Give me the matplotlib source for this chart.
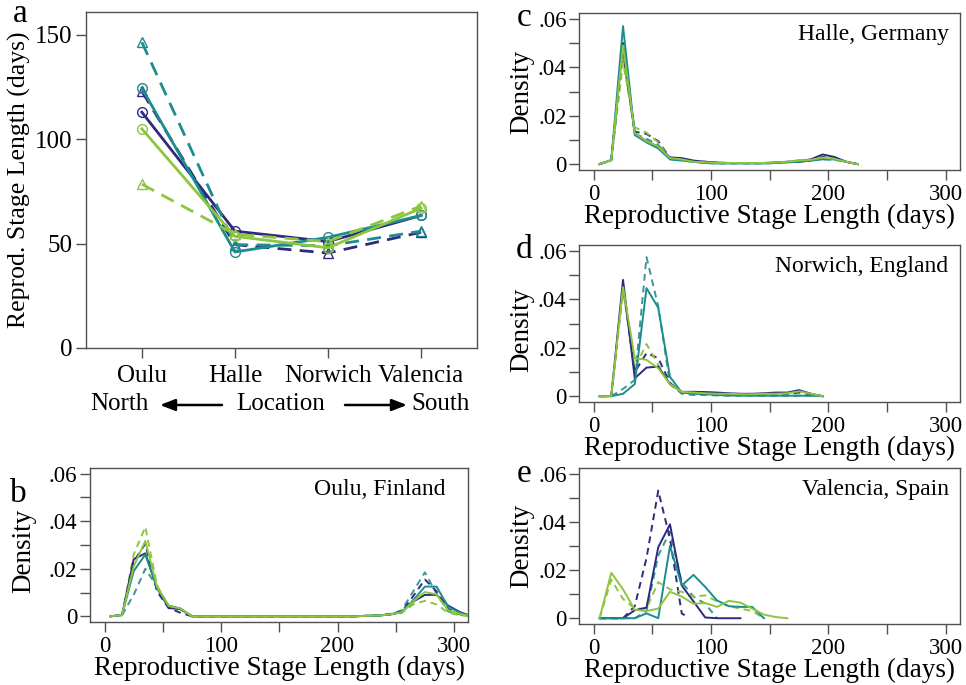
import matplotlib
matplotlib.use("Agg")
import matplotlib.pyplot as plt
from matplotlib.patches import FancyArrowPatch
from matplotlib.ticker import MultipleLocator

plt.rcParams["font.family"] = ["Liberation Serif", "DejaVu Serif"]

# ---------------- colours / styles ----------------
NAVY = "#2e2a7e"
TEAL = "#1d8c8c"
TEAL_D = "#3f9595"
GREEN = "#8cc63f"

# ---------------- panel a: mean stage length per site ----------------
sites = ["Oulu", "Halle", "Norwich", "Valencia"]
a_navy_solid = [113.0, 56.0, 51.0, 63.5]
a_navy_dash = [123.0, 49.5, 45.5, 55.5]
a_teal_solid = [124.5, 46.0, 53.0, 63.5]
a_teal_dash = [146.5, 49.5, 49.0, 56.0]
a_green_solid = [105.0, 53.5, 48.0, 67.0]
a_green_dash = [78.5, 54.5, 51.0, 68.0]

# ---------------- density curves (x = stage length, days) ----------------
# Oulu, Finland
b_x = [5, 15, 25, 35, 45, 55, 65, 75, 85, 95, 105, 115, 125, 135, 145, 155, 165, 175,
       185, 195, 205, 215, 225, 235, 245, 255, 265, 275, 285, 295, 305, 315]
b_navy_solid = [0, 0.0005, 0.024, 0.0265, 0.012, 0.0035, 0.003, 0, 0, 0, 0, 0, 0, 0, 0, 0, 0, 0,
                0, 0, 0, 0, 0.0002, 0.0003, 0.0008, 0.0017, 0.0062, 0.009, 0.009, 0.0045, 0.0018, 0]
b_navy_dash = [0, 0.0005, 0.023, 0.0305, 0.0105, 0.0035, 0.0015, 0, 0, 0, 0, 0, 0, 0, 0, 0, 0, 0,
               0, 0, 0, 0, 0.0002, 0.0003, 0.0008, 0.0018, 0.0085, 0.0155, 0.0105, 0.003, 0.001, 0]
b_teal_solid = [0, 0.0005, 0.019, 0.026, 0.012, 0.0045, 0.0033, 0, 0, 0, 0, 0, 0, 0, 0, 0, 0, 0,
                0, 0, 0, 0, 0.0002, 0.0003, 0.0008, 0.0017, 0.0068, 0.0125, 0.0125, 0.004, 0.0015, 0]
b_teal_dash = [0, 0.0005, 0.009, 0.020, 0.0125, 0.004, 0.003, 0, 0, 0, 0, 0, 0, 0, 0, 0, 0, 0,
               0, 0, 0, 0, 0.0002, 0.0003, 0.001, 0.0025, 0.0105, 0.0185, 0.0095, 0.002, 0.0008, 0]
b_green_solid = [0, 0.0005, 0.021, 0.0317, 0.0125, 0.0043, 0.0033, 0, 0, 0, 0, 0, 0, 0, 0, 0, 0, 0,
                 0, 0, 0, 0, 0.0002, 0.0003, 0.0008, 0.0016, 0.0063, 0.0102, 0.0092, 0.0025, 0.001, 0]
b_green_dash = [0, 0.0005, 0.026, 0.0376, 0.013, 0.0043, 0.0033, 0, 0, 0, 0, 0, 0, 0, 0, 0, 0, 0,
                0, 0, 0, 0, 0.0002, 0.0003, 0.0007, 0.0014, 0.005, 0.0065, 0.005, 0.0015, 0.0004, 0]

# Halle, Germany
c_x = [5, 15, 25, 35, 45, 55, 65, 75, 85, 95, 105, 115, 125, 135, 145, 155, 165, 175,
       185, 195, 205, 215, 225]
c_navy_solid = [0, 0.0017, 0.050, 0.0127, 0.0095, 0.0072, 0.0028, 0.0025, 0.0015, 0.001, 0.0007,
                0.0005, 0.0005, 0.0005, 0.0005, 0.0007, 0.001, 0.0013, 0.002, 0.004, 0.003, 0.001, 0]
c_navy_dash = [0, 0.0017, 0.046, 0.0134, 0.0125, 0.0095, 0.0025, 0.0022, 0.0012, 0.001, 0.0005,
               0.0005, 0.0005, 0.0005, 0.0005, 0.0005, 0.0008, 0.001, 0.0015, 0.003, 0.0022, 0.001, 0]
c_teal_solid = [0, 0.0017, 0.057, 0.012, 0.009, 0.0065, 0.002, 0.0015, 0.001, 0.0005, 0.0003,
                0.0003, 0.0003, 0.0003, 0.0003, 0.0005, 0.0008, 0.001, 0.0015, 0.002, 0.002, 0.001, 0]
c_teal_dash = [0, 0.0017, 0.045, 0.0125, 0.0105, 0.008, 0.002, 0.0015, 0.001, 0.0005, 0.0003,
               0.0003, 0.0003, 0.0003, 0.0003, 0.0005, 0.0008, 0.001, 0.0015, 0.002, 0.0018, 0.001, 0]
c_green_solid = [0, 0.0017, 0.049, 0.0128, 0.0095, 0.0073, 0.0025, 0.002, 0.001, 0.0008, 0.0005,
                 0.0005, 0.0005, 0.0005, 0.0005, 0.0007, 0.001, 0.0015, 0.0018, 0.0027, 0.0022, 0.001, 0]
c_green_dash = [0, 0.0017, 0.042, 0.0152, 0.013, 0.009, 0.002, 0.0018, 0.001, 0.0008, 0.0005,
                0.0005, 0.0005, 0.0005, 0.0005, 0.0007, 0.001, 0.0017, 0.0018, 0.0025, 0.002, 0.001, 0]

# Norwich, England
d_x = [5, 15, 25, 35, 45, 55, 65, 75, 85, 95, 105, 115, 125, 135, 145, 155, 165, 175, 185, 195]
d_navy_solid = [0, 0, 0.048, 0.0074, 0.0118, 0.0122, 0.005, 0.0018, 0.0018, 0.0017, 0.0015,
                0.0012, 0.001, 0.001, 0.0012, 0.0015, 0.0015, 0.0025, 0.001, 0]
d_navy_dash = [0, 0, 0.045, 0.010, 0.0178, 0.0157, 0.0055, 0.0015, 0.0012, 0.001, 0.001,
               0.001, 0.0008, 0.0008, 0.001, 0.001, 0.001, 0.0015, 0.0008, 0]
d_teal_solid = [0, 0, 0.001, 0.005, 0.0446, 0.0365, 0.008, 0.0015, 0.001, 0.0008, 0.0005,
                0.0003, 0.0002, 0.0002, 0.0002, 0.0002, 0.0002, 0.0002, 0.0002, 0]
d_teal_dash = [0, 0, 0.003, 0.0067, 0.0574, 0.037, 0.005, 0.001, 0.0005, 0.0005, 0.0003,
               0.0002, 0.0002, 0.0002, 0.0002, 0.0002, 0.0002, 0.0002, 0.0002, 0]
d_green_solid = [0, 0, 0.045, 0.0157, 0.015, 0.0115, 0.005, 0.0018, 0.0015, 0.0012, 0.001,
                 0.001, 0.0008, 0.0008, 0.001, 0.001, 0.0012, 0.002, 0.001, 0]
d_green_dash = [0, 0, 0.044, 0.012, 0.0215, 0.013, 0.005, 0.0015, 0.0012, 0.001, 0.001,
                0.0008, 0.0008, 0.0008, 0.001, 0.0012, 0.0012, 0.0022, 0.001, 0]

# Valencia, Spain
e_navy_solid_x = [5, 15, 25, 35, 45, 55, 65, 75, 85, 95, 105, 115, 125]
e_navy_solid = [0, 0, 0, 0.0033, 0.0044, 0.0295, 0.039, 0.0136, 0.007, 0.0003, 0, 0, 0]
e_navy_dash_x = [5, 15, 25, 35, 45, 55, 65, 75, 80]
e_navy_dash = [0, 0, 0, 0.005, 0.025, 0.053, 0.033, 0.002, 0.0005]
e_teal_solid_x = [5, 15, 25, 35, 45, 55, 65, 75, 85, 95, 105, 115, 125, 135, 145]
e_teal_solid = [0, 0, 0, 0, 0.002, 0, 0.030, 0.0136, 0.018, 0.013, 0.0074, 0.005, 0.0047,
                0.0047, 0]
e_teal_dash_x = [5, 15, 25, 35, 45, 55, 65, 75, 85, 95, 105]
e_teal_dash = [0, 0, 0, 0, 0.003, 0.026, 0.036, 0.015, 0.009, 0.006, 0]
e_green_solid_x = [5, 15, 25, 35, 45, 55, 65, 75, 85, 95, 105, 115, 125, 135, 145, 155, 165]
e_green_solid = [0, 0.0189, 0.012, 0.0035, 0.003, 0.004, 0.011, 0.009, 0.006, 0.0063, 0.0047,
                 0.0072, 0.0065, 0.004, 0.0015, 0.0005, 0]
e_green_dash_x = [5, 15, 25, 35, 45, 55, 65, 75, 85, 95, 105, 115, 125, 135, 145]
e_green_dash = [0, 0.016, 0.008, 0.004, 0.004, 0.015, 0.012, 0.011, 0.009, 0.0095, 0.007,
                0.005, 0.004, 0.003, 0]

W, H = 966, 685
fig = plt.figure(figsize=(W / 100, H / 100), dpi=100)


def box(l, t, r, b):
    return [l / W, 1 - b / H, (r - l) / W, (b - t) / H]


SPINE = "#505050"


def style_axes(ax):
    for s in ax.spines.values():
        s.set_color(SPINE)
        s.set_linewidth(1.0)
    ax.tick_params(which="both", direction="out", color=SPINE, width=1.0, length=7)


# ---------------- panel a ----------------
ax = fig.add_axes(box(86, 12, 477, 348))
style_axes(ax)
xs = [1, 2, 3, 4]
DASH_A = (0, (5, 3))
series_a = [
    (a_navy_solid, NAVY, "-", "o"),
    (a_navy_dash, NAVY, DASH_A, "^"),
    (a_teal_solid, TEAL, "-", "o"),
    (a_teal_dash, TEAL, DASH_A, "^"),
    (a_green_solid, GREEN, "-", "o"),
    (a_green_dash, GREEN, DASH_A, "^"),
]
for ys, col, ls, mk in series_a:
    ax.plot(xs, ys, color=col, linestyle=ls, linewidth=2.0, marker=mk, markersize=7,
            markerfacecolor="none", markeredgecolor=col, markeredgewidth=1.0)
ax.set_xlim(0.4, 4.6)
ax.set_ylim(0, 161)
ax.set_yticks([0, 50, 100, 150])
ax.set_xticks(xs)
ax.set_xticklabels(sites, fontsize=18)
ax.tick_params(axis="y", labelsize=18, pad=3)
ax.tick_params(axis="x", pad=5)
ax.set_ylabel("Reprod. Stage Length (days)", fontsize=18.5)
ax.yaxis.set_label_coords(-0.14, 0.5)

# second line under the site names
YL = 1 - 404 / H
fig.text(90 / W, YL, "North", fontsize=18, ha="left", va="center")
fig.text(281 / W, YL, "Location", fontsize=18, ha="center", va="center")
fig.text(470 / W, YL, "South", fontsize=18, ha="right", va="center")
arrow_kw = dict(arrowstyle="-|>,head_length=0.9,head_width=0.35", mutation_scale=10,
                color="black", lw=1.8, shrinkA=0, shrinkB=0, transform=fig.transFigure)
fig.add_artist(FancyArrowPatch((222 / W, 1 - 405 / H), (160 / W, 1 - 405 / H), **arrow_kw))
fig.add_artist(FancyArrowPatch((345 / W, 1 - 405 / H), (407 / W, 1 - 405 / H), **arrow_kw))


# ---------------- density panels ----------------
def density_panel(rect, title, curves, lab_x, lab_y, title_x=0.97):
    ax = fig.add_axes(rect)
    style_axes(ax)
    for xv, yv, col, ls in curves:
        ax.plot(xv, yv, color=col, linestyle=ls, linewidth=1.4)
    ax.set_xlim(-12.5, 312)
    ax.set_ylim(-0.0024, 0.0624)
    ax.set_xticks([0, 100, 200, 300])
    ax.xaxis.set_minor_locator(MultipleLocator(50))
    ax.set_yticks([0, 0.02, 0.04, 0.06])
    ax.set_yticklabels(["0", ".02", ".04", ".06"])
    ax.yaxis.set_minor_locator(MultipleLocator(0.01))
    ax.tick_params(axis="both", which="major", labelsize=16.5)
    ax.tick_params(axis="y", pad=2)
    ax.tick_params(axis="x", pad=3)
    ax.set_xlabel("Reproductive Stage Length (days)", fontsize=19.5, labelpad=-1)
    ax.set_ylabel("Density", fontsize=19.5)
    ax.yaxis.set_label_coords(lab_x, lab_y)
    ax.text(title_x, 0.93, title, transform=ax.transAxes, ha="right", va="top", fontsize=17)
    return ax


DASH = (0, (3.5, 2.5))

density_panel(box(90, 468, 468, 622), "Oulu, Finland", [
    (b_x, b_teal_dash, TEAL_D, DASH),
    (b_x, b_navy_dash, NAVY, DASH),
    (b_x, b_green_dash, GREEN, DASH),
    (b_x, b_navy_solid, NAVY, "-"),
    (b_x, b_teal_solid, TEAL, "-"),
    (b_x, b_green_solid, GREEN, "-"),
], -0.143, 0.46, title_x=0.94)

density_panel(box(579, 13, 960, 170), "Halle, Germany", [
    (c_x, c_teal_dash, TEAL_D, DASH),
    (c_x, c_navy_dash, NAVY, DASH),
    (c_x, c_green_dash, GREEN, DASH),
    (c_x, c_navy_solid, NAVY, "-"),
    (c_x, c_teal_solid, TEAL, "-"),
    (c_x, c_green_solid, GREEN, "-"),
], -0.118, 0.5)

density_panel(box(579, 245, 960, 402), "Norwich, England", [
    (d_x, d_teal_dash, TEAL_D, DASH),
    (d_x, d_navy_dash, NAVY, DASH),
    (d_x, d_green_dash, GREEN, DASH),
    (d_x, d_navy_solid, NAVY, "-"),
    (d_x, d_teal_solid, TEAL, "-"),
    (d_x, d_green_solid, GREEN, "-"),
], -0.118, 0.46)

density_panel(box(579, 468, 960, 624), "Valencia, Spain", [
    (e_teal_dash_x, e_teal_dash, TEAL_D, DASH),
    (e_navy_dash_x, e_navy_dash, NAVY, DASH),
    (e_green_dash_x, e_green_dash, GREEN, DASH),
    (e_navy_solid_x, e_navy_solid, NAVY, "-"),
    (e_teal_solid_x, e_teal_solid, TEAL, "-"),
    (e_green_solid_x, e_green_solid, GREEN, "-"),
], -0.118, 0.5)

# panel letters
for letter, x, y in [("a", 20, 14), ("b", 18, 494), ("c", 524, 18), ("d", 524, 250), ("e", 524, 474)]:
    fig.text(x / W, 1 - y / H, letter, fontsize=24, ha="center", va="center")

fig.savefig("out.png", dpi=100)
